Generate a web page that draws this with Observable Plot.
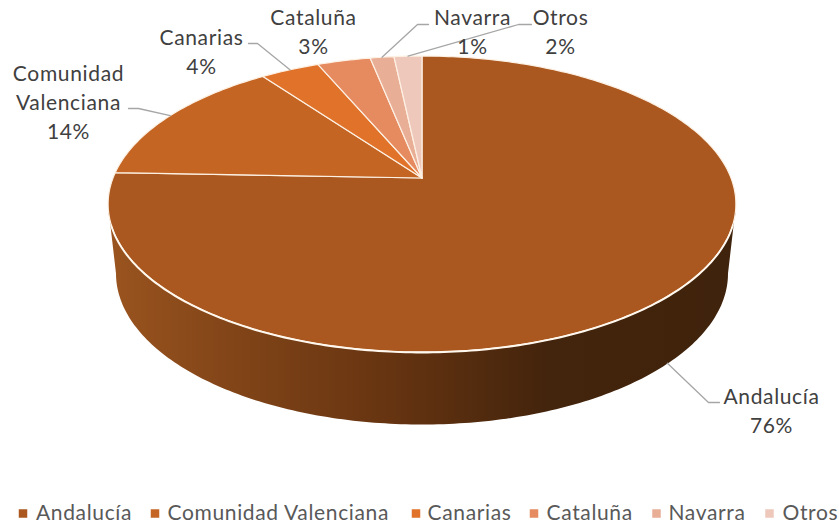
<!DOCTYPE html>
<html><head><meta charset="utf-8">
<style>html,body{margin:0;padding:0;background:#fff}svg{display:block}</style>
<script src="https://cdn.jsdelivr.net/npm/d3@7"></script>
<script src="https://cdn.jsdelivr.net/npm/@observablehq/plot@0.6"></script>
</head><body><div id="chart"></div>
<script>
const names = ["Andalucía","Comunidad Valenciana","Canarias","Cataluña","Navarra","Otros"];
const shares = [75.6,14.4,3.6,3.25,1.45,1.7];
const colors = ["#aa581f","#c46523","#e0722a","#e68a5f","#e9ae96","#eec8bb"];
const labelNames = ["Andalucía","Comunidad\nValenciana","Canarias","Cataluña","Navarra","Otros"];
const labelX = [771,68,201,313,472,560];
const labelY = [383,60,24,4,4,4];
const elbowX = [708,138,257,null,417,518];
const elbowY = [402,108,43,null,24,24];
const stubX = [719,128,248,null,428,531];
const legendSwatchX = [22.5,154.5,415.5,533.5,656,769];
const legendTextX = [35.5,167,427,546,668,782];

// pie geometry: perspective view of a circle
const cx = 421.5, cy = 177.5, k = 309, b = 143.4, c = 0.1757;
const project = (t) => {
  const u = Math.sin(t), v = Math.cos(t), d = 1 + c * v;
  return {x: cx + k * u / d, y: cy - b * v / d};
};
const total = d3.sum(shares);
const cum = d3.cumsum(shares);
const slicePts = [];
names.forEach((name, i) => {
  const a0 = (i ? cum[i - 1] : 0) / total * 2 * Math.PI;
  const a1 = cum[i] / total * 2 * Math.PI;
  const n = Math.max(4, Math.ceil((a1 - a0) * 60));
  slicePts.push({name, x: cx, y: cy});
  for (let j = 0; j <= n; j++) slicePts.push({name, ...project(a0 + (a1 - a0) * j / n)});
  slicePts.push({name, x: cx, y: cy});
});

// side wall: front rim plus a slightly narrower bottom ellipse
const ecy = 204, erx = 314, ery = 148;
const brx = 306, bcy = 273, bry = 151;
const side = [], rim = [];
for (let j = 0; j <= 180; j++) {
  const t = j / 180 * Math.PI;
  side.push({x: cx + erx * Math.cos(t), y: ecy + ery * Math.sin(t)});
  if (j >= 8 && j <= 172) rim.push({x: cx + erx * Math.cos(t), y: ecy + ery * Math.sin(t)});
}
for (let j = 180; j >= 0; j--) {
  const t = j / 180 * Math.PI;
  side.push({x: cx + brx * Math.cos(t), y: bcy + bry * Math.sin(t)});
}

// labels and leaders
const labels = names.map((name, i) => ({
  name, text: labelNames[i] + "\n" + d3.format(".0%")(shares[i] / total),
  x: labelX[i], y: labelY[i]
}));
const leaders = [];
names.forEach((name, i) => {
  if (elbowX[i] == null) return;
  const mid = ((i ? cum[i - 1] : 0) + shares[i] / 2) / total * 2 * Math.PI;
  const p = project(mid);
  const start = i === 0 ? {x: p.x, y: p.y + 67} : p;
  leaders.push({name, ...start});
  leaders.push({name, x: elbowX[i], y: elbowY[i]});
  leaders.push({name, x: stubX[i], y: elbowY[i]});
});
const legend = names.map((name, i) => ({name, sx: legendSwatchX[i], tx: legendTextX[i], y: 513}));

const chart = Plot.plot({
  width: 839, height: 526, margin: 0,
  x: {domain: [0, 839], range: [0, 839], axis: null},
  y: {domain: [0, 526], range: [0, 526], axis: null},
  color: {domain: names, range: colors},
  style: {background: "#fff", fontFamily: "Lato, sans-serif", letterSpacing: "0.65px"},
  marks: [
    Plot.line(side, {x: "x", y: "y", fill: "url(#sideGrad)", stroke: "none"}),
    Plot.line(slicePts, {x: "x", y: "y", z: "name", fill: "name", stroke: "#fdf1e4", strokeWidth: 1.2, strokeLinejoin: "round"}),
    Plot.line(rim, {x: "x", y: "y", stroke: "#fff8ef", strokeWidth: 1.8}),
    Plot.line(leaders, {x: "x", y: "y", z: "name", stroke: "#a6a6a6", strokeWidth: 1.3}),
    Plot.text(labels, {x: "x", y: "y", text: "text", lineAnchor: "top", textAnchor: "middle", fontSize: 21, lineHeight: 1.38, fill: "#404040"}),
    Plot.dot(legend, {x: "sx", y: "y", symbol: "square", r: 4.8, fill: "name", stroke: "none"}),
    Plot.text(legend, {x: "tx", y: "y", text: "name", textAnchor: "start", fontSize: 21, fill: "#595959"})
  ]
});
const defs = d3.select(chart).insert("defs", ":first-child")
  .append("linearGradient").attr("id", "sideGrad")
  .attr("gradientUnits", "userSpaceOnUse")
  .attr("x1", 108).attr("x2", 735).attr("y1", 0).attr("y2", 0);
[[0,"#9a541f"],[0.22,"#7f4317"],[0.45,"#663411"],[0.7,"#43240c"],[1,"#40230c"]].forEach(([o,col]) =>
  defs.append("stop").attr("offset", o).attr("stop-color", col));
document.getElementById("chart").appendChild(chart);
</script></body></html>
